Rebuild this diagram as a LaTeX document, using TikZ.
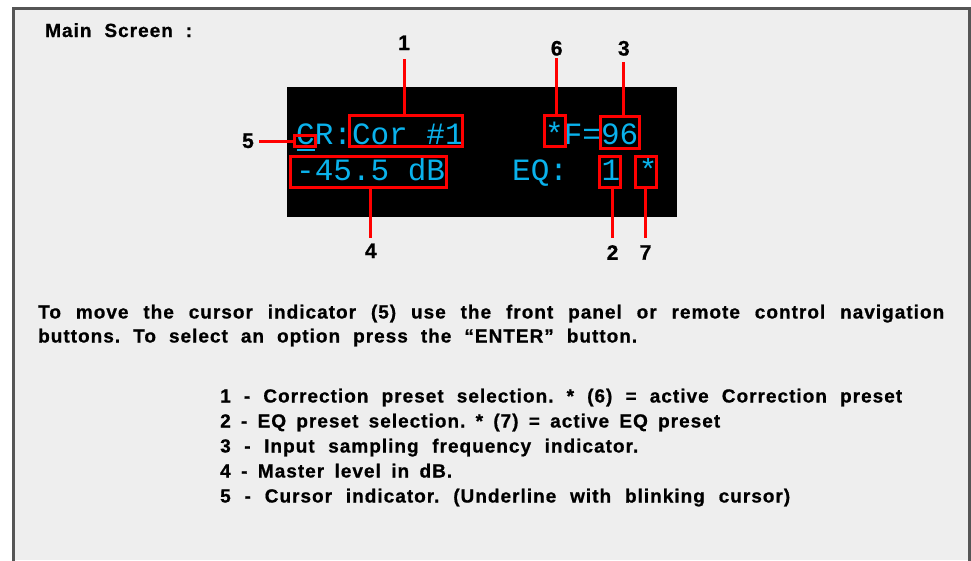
\documentclass[tikz,border=0pt]{standalone}
\usepackage{fontspec}
\setmainfont{Liberation Sans}
\newfontfamily\bodyfont[LetterSpace=5.3,FakeBold=0.8]{Liberation Sans Bold}
\newfontfamily\labelfont[FakeBold=0.8]{Liberation Sans Bold}
\newfontfamily\lcdfont{Liberation Mono}
\definecolor{framegray}{RGB}{85,85,85}
\definecolor{panelbg}{RGB}{238,238,238}
\definecolor{lcdcyan}{RGB}{10,178,236}
\definecolor{markred}{RGB}{255,0,0}
\begin{document}
\frenchspacing
\begin{tikzpicture}[x=1pt,y=-1pt,
  txt/.style={anchor=base west, inner sep=0pt, font=\fontsize{19}{19}\selectfont\bodyfont},
  lcdtxt/.style={anchor=base west, inner sep=0pt, text=lcdcyan, font=\fontsize{31}{31}\selectfont\lcdfont},
  markbox/.style={draw=markred, line width=3pt, inner sep=0pt},
  leader/.style={draw=markred, line width=3pt},
  numlabel/.style={inner sep=0pt, font=\fontsize{21}{21}\selectfont\labelfont}]
\useasboundingbox (0,0) rectangle (971,560);
\fill[white] (0,0) rectangle (971,560);
\fill[panelbg] (13.7,8.7) rectangle (969.6,560);
\draw[framegray, line width=2.7pt] (13.7,562) -- (13.7,8.7) -- (969.6,8.7) -- (969.6,562);

% LCD screen
\node[fill=black, minimum width=390pt, minimum height=130pt, inner sep=0pt] (lcd) at (482,152) {};
\node[lcdtxt] (row1a) at (296,144) {CR:Cor \#1};
\node[lcdtxt] (row1b) at (545,144) {*F=96};
\node[lcdtxt] (row2a) at (296,180) {-45.5 dB};
\node[lcdtxt] (row2b) at (512,180) {EQ:};
\node[lcdtxt] (row2c) at (601.5,180) {1 *};
\draw[lcdcyan, line width=2pt] (297,149.5) -- (315,149.5);

% red marker boxes
\node[markbox, minimum width=21pt, minimum height=11.3pt] (b5) at (304.7,141.2) {};
\node[markbox, minimum width=113.3pt, minimum height=31.3pt] (b1) at (405.8,131.2) {};
\node[markbox, minimum width=21pt, minimum height=31.3pt] (b6) at (555.3,131.2) {};
\node[markbox, minimum width=38.7pt, minimum height=32pt] (b3) at (620.1,132.5) {};
\node[markbox, minimum width=155.7pt, minimum height=31pt] (b4) at (368.3,172) {};
\node[markbox, minimum width=20.4pt, minimum height=31pt] (b2) at (610,172) {};
\node[markbox, minimum width=20.7pt, minimum height=31pt] (b7) at (645.8,172) {};

% labels
\node[numlabel] (l1) at (404,42.8) {1};
\node[numlabel] (l6) at (556.7,48.3) {6};
\node[numlabel] (l3) at (623.8,48.3) {3};
\node[numlabel] (l5) at (248,140.8) {5};
\node[numlabel] (l4) at (370.8,250.8) {4};
\node[numlabel] (l2) at (612.5,252.5) {2};
\node[numlabel] (l7) at (645.5,252.5) {7};

% leaders
\draw[leader, shorten >=8.7pt] (b1.north -| l1) -- (l1.south);
\draw[leader, shorten >=2.3pt] (b6.north -| l6) -- (l6.south);
\draw[leader, shorten >=5.8pt] (b3.north -| l3) -- (l3.south);
\draw[leader, shorten >=4.5pt] (b5.west) -- (b5.west -| l5.east);
\draw[leader, shorten >=5pt] (b4.south -| l4) -- (l4.north);
\draw[leader, shorten >=6.6pt] (b2.south -| l2) -- (l2.north);
\draw[leader, shorten >=6.6pt] (b7.south -| l7) -- (l7.north);

% texts
\node[txt] (title) at (45,37) {\makebox[147pt][s]{Main Screen :}};
\node[txt] (p1) at (38,318.5) {\makebox[906pt][s]{To move the cursor indicator (5) use the front panel or remote control navigation}};
\node[txt] (p2) at (38,342.5) {\makebox[599pt][s]{buttons. To select an option press the “ENTER” button.}};
\node[txt] (i1) at (220,402.5) {\makebox[682pt][s]{1 - Correction preset selection. * (6) = active Correction preset}};
\node[txt] (i2) at (220,427.5) {\makebox[500pt][s]{2 - EQ preset selection. * (7) = active EQ preset}};
\node[txt] (i3) at (220,452.5) {\makebox[418pt][s]{3 - Input sampling frequency indicator.}};
\node[txt] (i4) at (220,477.5) {\makebox[232pt][s]{4 - Master level in dB.}};
\node[txt] (i5) at (220,502.5) {\makebox[570pt][s]{5 - Cursor indicator. (Underline with blinking cursor)}};
\end{tikzpicture}
\end{document}
